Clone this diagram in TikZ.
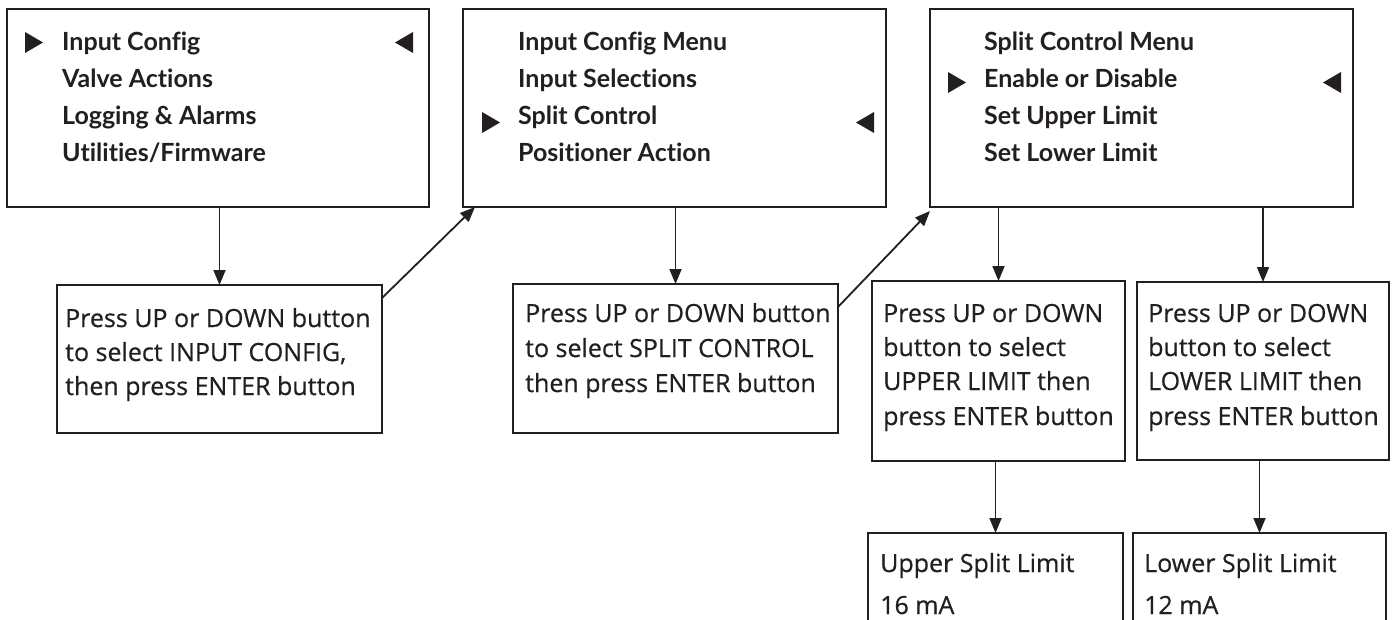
\documentclass[tikz,border=0pt]{standalone}
\usepackage{fontspec}
\setmainfont{Open Sans}[UprightFeatures={FakeBold=0.5}]
\newfontfamily\menufont{Lato}[Ligatures=NoCommon]
\usetikzlibrary{calc,arrows.meta}
\definecolor{ink}{HTML}{231F20}
\begin{document}
\begin{tikzpicture}[x=1pt,y=-1pt,
  menubox/.style={draw=ink,line width=2.4pt,inner sep=0pt,outer sep=0pt},
  textbox/.style={draw=ink,line width=1.2pt,inner sep=0pt,outer sep=0pt},
  menuline/.style={anchor=base west,inner sep=0pt,text=ink,font=\menufont\bfseries\fontsize{25}{30}\selectfont},
  boxline/.style={anchor=base west,inner sep=0pt,text=ink,font=\fontsize{25}{30}\selectfont},
  arr/.style={draw=ink,line width=1.8pt,-{Triangle[length=15pt,width=12pt]}},
  tri/.style={fill=ink,draw=none}]
\clip (0,0) rectangle (1396,620);
\fill[white] (0,0) rectangle (1396,620);

% menu screens
\node[menubox,minimum width=422pt,minimum height=198pt] (m1) at (218,108) {};
\node[menubox,minimum width=423pt,minimum height=198pt] (m2) at (674.5,108) {};
\node[menubox,minimum width=423pt,minimum height=198pt] (m3) at (1141.5,108) {};

\node[menuline] (m1a) at (62,51) {Input Config};
\node[menuline] (m1b) at (62,88) {Valve Actions};
\node[menuline] (m1c) at (62,125) {Logging \& Alarms};
\node[menuline] (m1d) at (62,162) {Utilities/Firmware};

\node[menuline] (m2a) at (518,51) {Input Config Menu};
\node[menuline] (m2b) at (518,88) {Input Selections};
\node[menuline] (m2c) at (518,125) {Split Control};
\node[menuline] (m2d) at (518,162) {Positioner Action};

\node[menuline] (m3a) at (984,51) {Split Control Menu};
\node[menuline] (m3b) at (984,88) {Enable or Disable};
\node[menuline] (m3c) at (984,125) {Set Upper Limit};
\node[menuline] (m3d) at (984,162) {Set Lower Limit};

% selection markers
\fill[tri] (25,32) -- (43,42.5) -- (25,53) -- cycle;
\fill[tri] (413,32) -- (395,42.5) -- (413,53) -- cycle;
\fill[tri] (482,112) -- (500,122.5) -- (482,133) -- cycle;
\fill[tri] (874,112) -- (856,122.5) -- (874,133) -- cycle;
\fill[tri] (948,72) -- (966,82.5) -- (948,93) -- cycle;
\fill[tri] (1341,72) -- (1323,82.5) -- (1341,93) -- cycle;

% instruction boxes
\node[textbox,minimum width=325pt,minimum height=148pt] (A) at (219.5,359) {};
\node[textbox,minimum width=325pt,minimum height=149pt] (B) at (675.5,358.5) {};
\node[textbox,minimum width=253pt,minimum height=180pt] (C) at (998.5,371) {};
\node[textbox,minimum width=252pt,minimum height=178pt] (D) at (1263,371) {};
\node[textbox,minimum width=255pt,minimum height=127pt] (E) at (995.5,596.5) {};
\node[textbox,minimum width=253pt,minimum height=127pt] (F) at (1259.5,596.5) {};

\node[boxline] (Aa) at (65,327) {Press UP or DOWN button};
\node[boxline] (Ab) at (65,361) {to select INPUT CONFIG,};
\node[boxline] (Ac) at (65,395) {then press ENTER button};

\node[boxline] (Ba) at (525,322) {Press UP or DOWN button};
\node[boxline] (Bb) at (525,357) {to select SPLIT CONTROL};
\node[boxline] (Bc) at (525,392) {then press ENTER button};

\node[boxline] (Ca) at (883,322) {Press UP or DOWN};
\node[boxline] (Cb) at (883,356) {button to select};
\node[boxline] (Cc) at (883,390) {UPPER LIMIT then};
\node[boxline] (Cd) at (883,425) {press ENTER button};

\node[boxline] (Da) at (1148,322) {Press UP or DOWN};
\node[boxline] (Db) at (1148,356) {button to select};
\node[boxline] (Dc) at (1148,390) {LOWER LIMIT then};
\node[boxline] (Dd) at (1148,425) {press ENTER button};

\node[boxline] (Ea) at (880,572) {Upper Split Limit};
\node[boxline] (Eb) at (880,614) {16 mA};
\node[boxline] (Fa) at (1144,572) {Lower Split Limit};
\node[boxline] (Fb) at (1144,614) {12 mA};

% connectors
\draw[arr] (A.north |- m1.south) -- (A.north);
\draw[arr] (B.north |- m2.south) -- (B.north);
\draw[arr] (C.north |- m3.south) -- (C.north);
\draw[arr] (D.north |- m3.south) -- (D.north);
\draw[arr] (E.north |- C.south) -- (E.north);
\draw[arr] (F.north |- D.south) -- (F.north);
\coordinate (a1s) at ($(A.north east)+(0,13)$);
\coordinate (a1e) at ($(m2.south west)+(12,0)$);
\draw[arr] (a1s) -- (a1e);
\coordinate (a2s) at ($(B.north east)+(0,23)$);
\coordinate (a2e) at ($(m3.south west)+(0,4)$);
\draw[arr] (a2s) -- (a2e);
\end{tikzpicture}
\end{document}
